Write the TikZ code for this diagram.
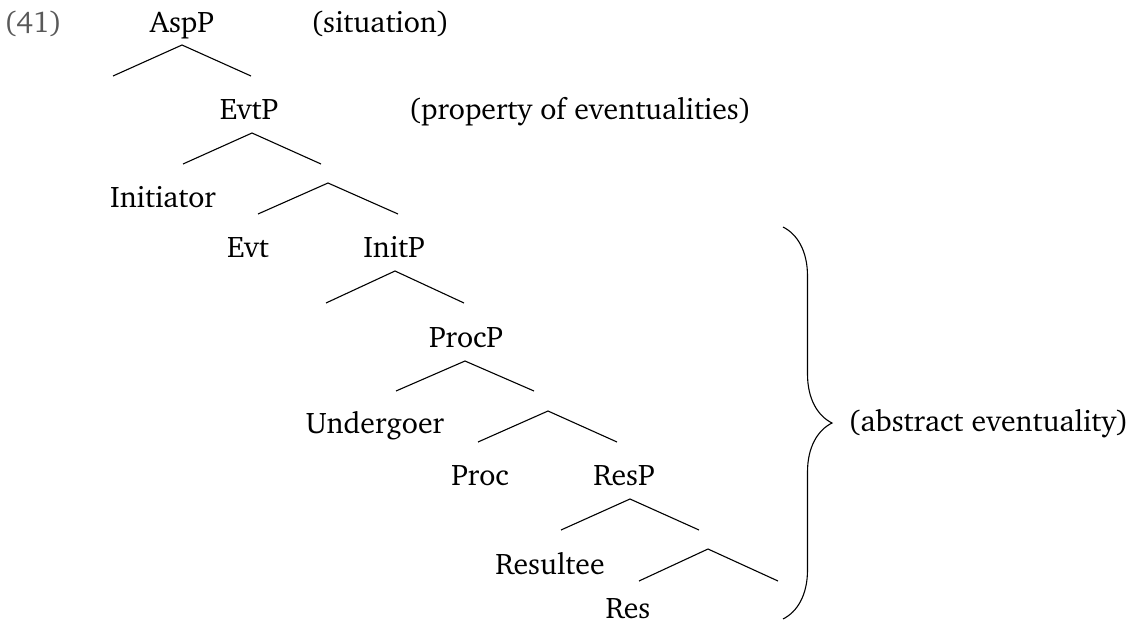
\documentclass[tikz,border=0pt]{standalone}
\usepackage[T1]{fontenc}
\usepackage{charter}
\usetikzlibrary{decorations.pathreplacing}
\begin{document}
\begin{tikzpicture}[x=1pt,y=-1pt,
  lbl/.style={anchor=base,inner sep=0pt,font=\fontsize{29.8}{36}\selectfont},
  branch/.style={line width=1.1pt},
  curly/.style={line width=1.1pt,decorate,decoration={brace,amplitude=49pt}},
  ]
\useasboundingbox (0,0) rectangle (1135,624);

% example number and annotations
\node[lbl,text=black!65] (ex) at (33,32) {(41)};
\node[lbl] (sit) at (380,32) {(situation)};
\node[lbl] (prop) at (580,119) {(property of eventualities)};

% tree labels
\node[lbl] (AspP) at (182,32) {AspP};
\node[lbl] (EvtP) at (249,119) {EvtP};
\node[lbl] (Initiator) at (163,207) {Initiator};
\node[lbl] (Evt) at (248,257) {Evt};
\node[lbl] (InitP) at (394,257) {InitP};
\node[lbl] (ProcP) at (466,347) {ProcP};
\node[lbl] (Undergoer) at (375,433) {Undergoer};
\node[lbl] (Proc) at (480,485) {Proc};
\node[lbl] (ResP) at (624,485) {ResP};
\node[lbl] (Resultee) at (550,574) {Resultee};
\node[lbl] (Res) at (628,618.5) {Res};

% branching points (apex, left end, right end)
\coordinate (AspP-a) at (182,45);  \coordinate (AspP-l) at (113,76);  \coordinate (AspP-r) at (251,76);
\coordinate (EvtP-a) at (252,133); \coordinate (EvtP-l) at (183,164); \coordinate (EvtP-r) at (321,164);
\coordinate (EvtB-a) at (328,183); \coordinate (EvtB-l) at (258,214); \coordinate (EvtB-r) at (398,214);
\coordinate (InitP-a) at (395,271); \coordinate (InitP-l) at (326,303); \coordinate (InitP-r) at (464,303);
\coordinate (ProcP-a) at (465,361); \coordinate (ProcP-l) at (396,391); \coordinate (ProcP-r) at (534,391);
\coordinate (ProcB-a) at (548,411); \coordinate (ProcB-l) at (478,442); \coordinate (ProcB-r) at (617,442);
\coordinate (ResP-a) at (630,499); \coordinate (ResP-l) at (561,530); \coordinate (ResP-r) at (699,530);
\coordinate (ResB-a) at (708,549); \coordinate (ResB-l) at (639,581); \coordinate (ResB-r) at (778,581);

\foreach \n in {AspP,EvtP,EvtB,InitP,ProcP,ProcB,ResP,ResB}{
  \draw[branch] (\n-l) -- (\n-a) -- (\n-r);
}

% brace over the lower part of the tree
\coordinate (br-top) at (783,227);
\coordinate (br-bot) at (783,619);
\draw[curly] (br-top) -- (br-bot);
\node[lbl,anchor=base west] (abs) at (848,431) {(abstract eventuality)};
\end{tikzpicture}
\end{document}
